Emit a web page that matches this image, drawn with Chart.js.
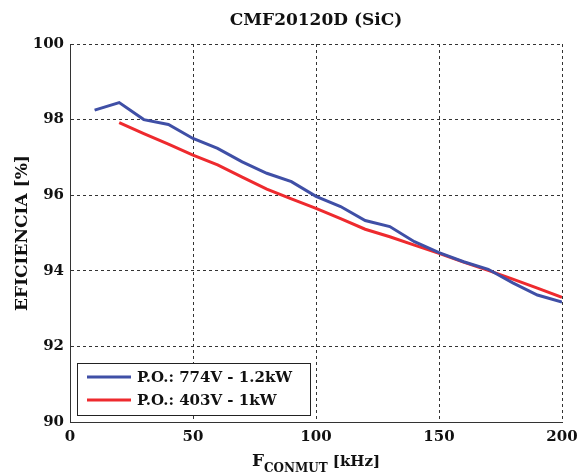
<!DOCTYPE html>
<html>
<head>
<meta charset="utf-8">
<script src="https://cdn.jsdelivr.net/npm/chart.js@4.4.1/dist/chart.umd.min.js"></script>
<style>
  html, body { margin: 0; padding: 0; background: #fff; }
  #wrap { width: 577px; height: 476px; }
</style>
</head>
<body>
<div id="wrap"><canvas id="effChart" width="577" height="476"></canvas></div>
<script>
const chartTitle = 'CMF20120D (SiC)';
const yTitle = 'EFICIENCIA [%]';
const seriesNames = ['P.O.: 774V - 1.2kW', 'P.O.: 403V - 1kW'];

// frequency (kHz) and efficiency (%)
const freqBlue = [10, 20, 30, 40, 50, 60, 70, 80, 90, 100, 110, 120, 130, 140, 150, 160, 170, 180, 190, 200];
const effBlue = [98.25, 98.45, 98.0, 97.87, 97.5, 97.24, 96.88, 96.58, 96.36, 95.97, 95.7, 95.33, 95.17, 94.77, 94.48, 94.24, 94.04, 93.68, 93.36, 93.17];
const freqRed = [20, 30, 40, 50, 60, 70, 80, 90, 100, 110, 120, 130, 140, 150, 160, 170, 180, 190, 200];
const effRed = [97.92, 97.63, 97.35, 97.06, 96.8, 96.48, 96.16, 95.9, 95.65, 95.38, 95.1, 94.9, 94.68, 94.46, 94.23, 94.01, 93.78, 93.54, 93.3];

const font = 'DejaVu Serif';
const toXY = (xs, ys) => xs.map((x, i) => ({x: x, y: ys[i]}));

// title, subscripted x label and boxed legend drawn on the canvas
const extras = {
    id: 'extras',
    afterDraw(chart) {
        const ctx = chart.ctx;
        const a = chart.chartArea;
        const cx = (a.left + a.right) / 2;
        ctx.save();
        ctx.fillStyle = '#111';
        ctx.textBaseline = 'alphabetic';

        ctx.font = 'bold 17px ' + font;
        ctx.textAlign = 'center';
        ctx.fillText(chartTitle, cx, 25);

        // F_CONMUT [kHz]
        const f1 = 'bold 17px ' + font, f2 = 'bold 12px ' + font, f3 = 'bold 15px ' + font;
        ctx.font = f1; const w1 = ctx.measureText('F').width;
        ctx.font = f2; const w2 = ctx.measureText('CONMUT').width;
        ctx.font = f3; const w3 = ctx.measureText(' [kHz]').width;
        let x = cx - (w1 + w2 + w3) / 2;
        ctx.textAlign = 'left';
        ctx.font = f1; ctx.fillText('F', x, 466); x += w1;
        ctx.font = f2; ctx.fillText('CONMUT', x, 472); x += w2;
        ctx.font = f3; ctx.fillText(' [kHz]', x, 466);

        // legend
        const bx = a.left + 7, by = a.bottom - 59, bw = 233, bh = 52;
        ctx.fillStyle = '#fff';
        ctx.fillRect(bx, by, bw, bh);
        ctx.strokeStyle = '#222';
        ctx.lineWidth = 1;
        ctx.strokeRect(bx + 0.5, by + 0.5, bw, bh);
        ctx.font = 'bold 15px ' + font;
        chart.data.datasets.forEach((ds, i) => {
            const ly = by + 14 + i * 23;
            ctx.strokeStyle = ds.borderColor;
            ctx.lineWidth = 3;
            ctx.beginPath();
            ctx.moveTo(bx + 10, ly);
            ctx.lineTo(bx + 54, ly);
            ctx.stroke();
            ctx.fillStyle = '#111';
            ctx.textBaseline = 'middle';
            ctx.fillText(ds.label, bx + 60, ly + 1);
        });
        ctx.restore();
    }
};

new Chart(document.getElementById('effChart'), {
    type: 'line',
    data: {
        datasets: [{
            label: seriesNames[0],
            data: toXY(freqBlue, effBlue),
            borderColor: '#3f4fa6',
            borderWidth: 3,
            pointRadius: 0,
            tension: 0
        }, {
            label: seriesNames[1],
            data: toXY(freqRed, effRed),
            borderColor: '#ee2a2e',
            borderWidth: 3,
            pointRadius: 0,
            tension: 0
        }]
    },
    options: {
        responsive: false,
        animation: false,
        layout: { padding: { top: 44, right: 15, left: 0, bottom: 0 } },
        plugins: {
            legend: { display: false },
            title: { display: false },
            tooltip: { enabled: false }
        },
        scales: {
            x: {
                type: 'linear',
                min: 0,
                max: 200,
                ticks: { stepSize: 50, padding: 6, color: '#111', font: { family: font, size: 15, weight: 'bold' } },
                grid: { color: '#333', lineWidth: 1, drawTicks: false },
                border: { display: true, color: '#333', width: 1, dash: [3, 3] },
                afterFit(scale) {
                    scale.height = 54;
                    scale.paddingLeft = 0;
                    scale.paddingRight = 0;
                }
            },
            y: {
                min: 90,
                max: 100,
                ticks: { stepSize: 2, padding: 6, color: '#111', font: { family: font, size: 15, weight: 'bold' } },
                grid: { color: '#333', lineWidth: 1, drawTicks: false },
                border: { display: true, color: '#333', width: 1, dash: [3, 3] },
                title: {
                    display: true,
                    text: yTitle,
                    color: '#111',
                    font: { family: font, size: 17, weight: 'bold' },
                    padding: { top: 12, bottom: 0 }
                },
                afterFit(scale) { scale.width = 70; }
            }
        }
    },
    plugins: [extras]
});
</script>
</body>
</html>
